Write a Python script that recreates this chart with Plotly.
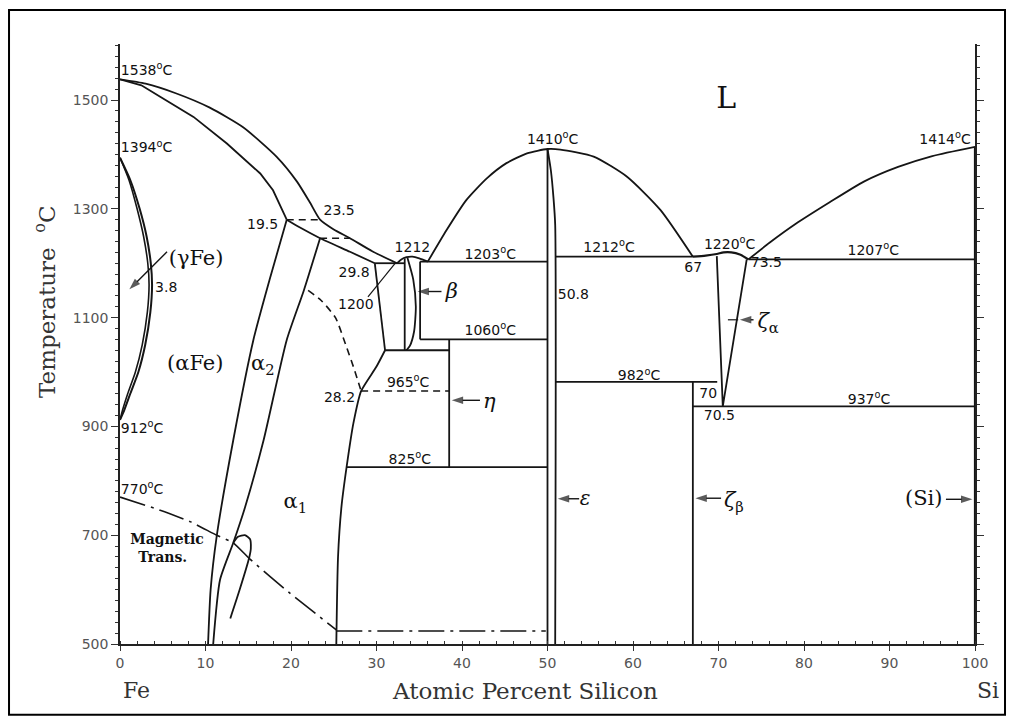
import plotly.graph_objects as go

# ---------------- data (atomic % Si, temperature in degC) ----------------
liq_fe_x = [0, 3.0, 6.6, 10.5, 14.4, 18.3, 20.7, 22.2, 23.4, 25.0, 26.9, 29.5, 32.4]
liq_fe_t = [1538, 1530, 1512, 1486, 1450, 1396, 1350, 1312, 1280, 1262, 1246, 1222, 1200]
sol_fe_x = [0, 2.5, 4.7, 8.6, 12.5, 16.4, 17.9, 19.5, 21.0, 23.4, 26.9, 29.8]
sol_fe_t = [1538, 1527, 1506, 1469, 1420, 1365, 1334, 1280, 1266, 1246, 1221, 1200]

gam_out_x = [0, 1.2, 2.3, 3.1, 3.6, 3.75, 3.55, 2.95, 2.15, 1.2, 0.5, 0]
gam_in_x = [0, 1.05, 2.0, 2.75, 3.25, 3.4, 3.2, 2.6, 1.8, 0.9, 0.3, 0]
gam_t = [1394, 1353, 1300, 1250, 1200, 1160, 1110, 1050, 1000, 960, 930, 912]

a2_left_x = [19.5, 17.5, 15.6, 13.25, 11.3, 10.6, 10.3]
a2_left_t = [1280, 1170, 1059, 875, 697, 600, 500]
a2_right_x = [23.4, 21.5, 19.5, 16.8, 14.6, 13.25, 11.7, 10.9]
a2_right_t = [1246, 1150, 1059, 875, 750, 686, 618, 500]

bump_x = [13.25, 13.8, 14.6, 15.2, 15.3, 15.1, 14.0, 12.9]
bump_t = [686, 697, 700, 693, 675, 658, 600, 547]

mag_x = [0, 4.7, 8.2, 11.3, 13.25, 15.2, 19.9, 25.3]
mag_t = [770, 746, 725, 700, 686, 656, 593, 526]
mag_flat_x = [25.3, 49.8]
mag_flat_t = [524, 524]

a1_x = [29.8, 31.0, 30.0, 28.2, 27.3, 26.5, 25.9, 25.5, 25.3]
a1_t = [1200, 1040, 1010, 965, 906, 825, 752, 660, 500]

a1a2_dash_x = [22.0, 23.5, 25.2, 26.4, 27.4, 28.2]
a1a2_dash_t = [1150, 1132, 1100, 1050, 1005, 965]

beta_left_x = [33.3, 33.3]
beta_left_t = [1209, 1040]
beta_right_x = [33.6, 34.3, 34.6, 34.4, 33.9, 33.5]
beta_right_t = [1211, 1170, 1120, 1075, 1048, 1040]
beta_liq_x = [32.4, 32.9, 33.5, 34.2, 35.0, 36.0]
beta_liq_t = [1200, 1207, 1211, 1212, 1209, 1203]

eps_liq_x = [36.0, 38.2, 40.5, 42.9, 45.2, 47.6, 50.0, 51.5, 55.4, 59.3, 63.2, 67.0]
eps_liq_t = [1203, 1261, 1316, 1356, 1384, 1402, 1410, 1409, 1396, 1359, 1298, 1212]
eps_left_x = [50.0, 50.0]
eps_left_t = [500, 1410]
eps_right_x = [50.0, 50.4, 50.7, 50.9, 50.9]
eps_right_t = [1410, 1370, 1320, 1270, 500]

zeta_a_x = [69.8, 70.5, 73.3]
zeta_a_t = [1213, 937, 1207]
zeta_dome_x = [67.0, 68.5, 69.8, 70.6, 71.5, 72.5, 73.5]
zeta_dome_t = [1212, 1214, 1217, 1220, 1220, 1216, 1207]

si_liq_x = [73.5, 76.0, 79.0, 83.0, 87.0, 91.0, 95.0, 100]
si_liq_t = [1207, 1238, 1272, 1312, 1350, 1377, 1397, 1414]

# horizontal invariant lines: (x_start, x_end, T)
iso_solid = [(29.8, 33.3, 1200), (35.1, 50.0, 1203), (35.1, 50.0, 1060), (31.0, 38.5, 1040),
             (26.5, 50.0, 825), (50.9, 67.0, 1212), (50.9, 69.85, 982), (67.0, 100, 937),
             (73.5, 100, 1207)]
iso_dashed = [(19.5, 23.4, 1280), (23.4, 26.9, 1246), (28.2, 38.5, 965)]
# vertical lines: (x, T_low, T_high)
verticals = [(35.1, 1060, 1203), (38.5, 825, 1060), (67.0, 500, 982), (100, 500, 1414)]

x_ticks = [0, 10, 20, 30, 40, 50, 60, 70, 80, 90, 100]
y_ticks = [500, 700, 900, 1100, 1300, 1500]

# labels: (x, T, text, anchor)
num_labels = [
    (0.1, 1552, "1538<sup>o</sup>C", "left"), (0.1, 1410, "1394<sup>o</sup>C", "left"),
    (0.1, 895, "912<sup>o</sup>C", "left"), (0.1, 783, "770<sup>o</sup>C", "left"),
    (18.5, 1270, "19.5", "right"), (23.8, 1295, "23.5", "left"),
    (29.2, 1181, "29.8", "right"), (25.5, 1123, "1200", "left"),
    (34.2, 1227, "1212", "center"), (43.3, 1215, "1203<sup>o</sup>C", "center"),
    (43.3, 1074, "1060<sup>o</sup>C", "center"), (50.6, 1426, "1410<sup>o</sup>C", "center"),
    (33.7, 979, "965<sup>o</sup>C", "center"), (27.5, 952, "28.2", "right"),
    (33.9, 838, "825<sup>o</sup>C", "center"), (51.2, 1141, "50.8", "left"),
    (57.2, 1227, "1212<sup>o</sup>C", "center"), (67.05, 1190, "67", "center"),
    (71.3, 1233, "1220<sup>o</sup>C", "center"), (75.6, 1200, "73.5", "center"),
    (60.7, 991, "982<sup>o</sup>C", "center"), (68.8, 958, "70", "center"),
    (70.1, 918, "70.5", "center"), (87.6, 948, "937<sup>o</sup>C", "center"),
    (88.1, 1221, "1207<sup>o</sup>C", "center"), (96.5, 1426, "1414<sup>o</sup>C", "center"),
    (4.1, 1154, "3.8", "left"),
]
phase_labels = [
    (8.9, 1206, "(γFe)", 21), (8.8, 1013, "(αFe)", 21), (16.7, 1013, "α<sub>2</sub>", 21),
    (20.5, 759, "α<sub>1</sub>", 21), (38.8, 1145, "<i>β</i>", 21), (43.2, 943, "<i>η</i>", 21),
    (54.4, 765, "<i>ε</i>", 20), (75.8, 1090, "<i>ζ</i><sub>α</sub>", 21),
    (71.8, 761, "<i>ζ</i><sub>β</sub>", 21), (94.0, 765, "(Si)", 21), (70.9, 1500, "L", 30),
]
mag_labels = [(5.5, 691, "Magnetic"), (5.0, 658, "Trans.")]

# arrows: (tail_x, tail_T, head_x, head_T)
arrows = [(5.5, 1221, 1.1, 1152), (37.6, 1148, 34.8, 1148), (42.1, 948, 38.8, 948),
          (53.7, 767, 51.2, 767), (74.1, 1096, 72.5, 1096), (70.3, 768, 67.3, 768),
          (96.6, 766, 99.7, 766)]
leader_1200_x = [29.0, 32.2]
leader_1200_t = [1138, 1200]
zeta_a_leader_x = [71.1, 72.3]
zeta_a_leader_t = [1096, 1096]

# ---------------- figure ----------------
LC = "#151515"
fig = go.Figure()


def add_line(xs, ys, width=1.8, dash="solid", smooth=0.6):
    fig.add_trace(go.Scatter(x=xs, y=ys, mode="lines", showlegend=False, hoverinfo="skip",
                             line=dict(color=LC, width=width, dash=dash, shape="spline",
                                       smoothing=smooth)))


def add_poly(xs, ys, width=1.8, dash="solid"):
    fig.add_trace(go.Scatter(x=xs, y=ys, mode="lines", showlegend=False, hoverinfo="skip",
                             line=dict(color=LC, width=width, dash=dash)))


add_line(liq_fe_x, liq_fe_t)
add_poly(sol_fe_x[:8], sol_fe_t[:8])
add_line(sol_fe_x[7:], sol_fe_t[7:])
add_line(gam_out_x, gam_t, width=2)
add_line(gam_in_x, gam_t, width=1.6)
add_line(a2_left_x, a2_left_t)
add_line(a2_right_x, a2_right_t)
add_line(bump_x, bump_t)
add_line(mag_x, mag_t, width=1.6, dash="26px,6px,3px,6px", smooth=0.4)
add_poly(mag_flat_x, mag_flat_t, width=1.6, dash="26px,6px,3px,6px")
add_poly(a1_x[:2], a1_t[:2])
add_line(a1_x[1:], a1_t[1:])
add_line(a1a2_dash_x, a1a2_dash_t, width=1.6, dash="7px,5px")
add_poly(beta_left_x, beta_left_t)
add_line(beta_right_x, beta_right_t)
add_line(beta_liq_x, beta_liq_t)
add_line(eps_liq_x, eps_liq_t)
add_poly(eps_left_x, eps_left_t)
add_line(eps_right_x, eps_right_t)
add_poly(zeta_a_x, zeta_a_t)
add_line(zeta_dome_x, zeta_dome_t, width=2.2)
add_line(si_liq_x, si_liq_t)
for x0, x1, t in iso_solid:
    add_poly([x0, x1], [t, t])
for x0, x1, t in iso_dashed:
    add_poly([x0, x1], [t, t], width=1.6, dash="7px,5px")
for x, t0, t1 in verticals:
    add_poly([x, x], [t0, t1], width=2.2 if x == 100 else 1.8)
add_poly(leader_1200_x, leader_1200_t, width=1.2)
add_poly(zeta_a_leader_x, zeta_a_leader_t, width=1.2)

# arrows as line + arrow marker
for tx, tt, hx, ht in arrows:
    fig.add_trace(go.Scatter(x=[tx, hx], y=[tt, ht], mode="lines+markers", showlegend=False,
                             hoverinfo="skip", line=dict(color=LC, width=1.4),
                             marker=dict(symbol=["circle", "arrow"], size=[0, 12],
                                         angleref="previous", color=LC,
                                         line=dict(width=0))))

# text labels as text traces
pos_map = {"left": "middle right", "right": "middle left", "center": "middle center"}
for anc in ["left", "right", "center"]:
    sel = [lab for lab in num_labels if lab[3] == anc]
    fig.add_trace(go.Scatter(x=[s[0] for s in sel], y=[s[1] for s in sel],
                             text=[s[2] for s in sel], mode="text", textposition=pos_map[anc],
                             cliponaxis=False, showlegend=False, hoverinfo="skip",
                             textfont=dict(family="DejaVu Sans", size=14, color="#111")))
for x, t, txt, sz in phase_labels:
    fig.add_trace(go.Scatter(x=[x], y=[t], text=[txt], mode="text", textposition="middle center",
                             cliponaxis=False, showlegend=False, hoverinfo="skip",
                             textfont=dict(family="DejaVu Serif", size=sz, color="#111")))
fig.add_trace(go.Scatter(x=[m[0] for m in mag_labels], y=[m[1] for m in mag_labels],
                         text=["<b>" + m[2] + "</b>" for m in mag_labels], mode="text",
                         textposition="middle center", cliponaxis=False, showlegend=False,
                         hoverinfo="skip",
                         textfont=dict(family="DejaVu Serif", size=14, color="#111")))

ann = [
    dict(x=0.4737, y=-0.078, xref="paper", yref="paper", text="Atomic Percent Silicon",
         xanchor="center", yanchor="middle", showarrow=False,
         font=dict(family="DejaVu Serif", size=23, color="#333")),
    dict(x=0.019, y=-0.078, xref="paper", yref="paper", text="Fe", showarrow=False,
         xanchor="center", yanchor="middle",
         font=dict(family="DejaVu Serif", size=22, color="#333")),
    dict(x=1.015, y=-0.078, xref="paper", yref="paper", text="Si", showarrow=False,
         xanchor="center", yanchor="middle",
         font=dict(family="DejaVu Serif", size=22, color="#333")),
    dict(x=-0.0877, y=0.57, xref="paper", yref="paper", text="Temperature  <sup>o</sup>C",
         xanchor="center", yanchor="middle", textangle=-90, showarrow=False,
         font=dict(family="DejaVu Serif", size=23, color="#333")),
]

fig.update_layout(
    width=1015, height=718,
    margin=dict(l=120, r=40, t=44, b=74),
    paper_bgcolor="white", plot_bgcolor="white",
    showlegend=False, hovermode=False,
    annotations=ann,
    shapes=[dict(type="rect", xref="paper", yref="paper", x0=-0.1298, x1=1.0351,
                 y0=-0.118, y1=1.0567, line=dict(color="black", width=2))],
    xaxis=dict(range=[0, 100], tickvals=x_ticks, ticks="outside", ticklen=5, tickwidth=1.2,
               tickcolor="#333", showline=True, linecolor="#222", linewidth=1.5,
               showgrid=False, zeroline=False,
               tickfont=dict(family="DejaVu Sans", size=14, color="#555"),
               minor=dict(dtick=2, ticks="inside", ticklen=3, tickcolor="#333", showgrid=False)),
    yaxis=dict(range=[500, 1603], tickvals=y_ticks, ticks="outside", ticklen=7, tickwidth=1.2,
               tickcolor="#333", showline=True, linecolor="#222", linewidth=1.5, mirror="ticks",
               showgrid=False, zeroline=False,
               tickfont=dict(family="DejaVu Sans", size=14, color="#555"),
               minor=dict(dtick=20, ticks="outside", ticklen=3, tickcolor="#333", showgrid=False)),
)

fig.write_html("out.html")
